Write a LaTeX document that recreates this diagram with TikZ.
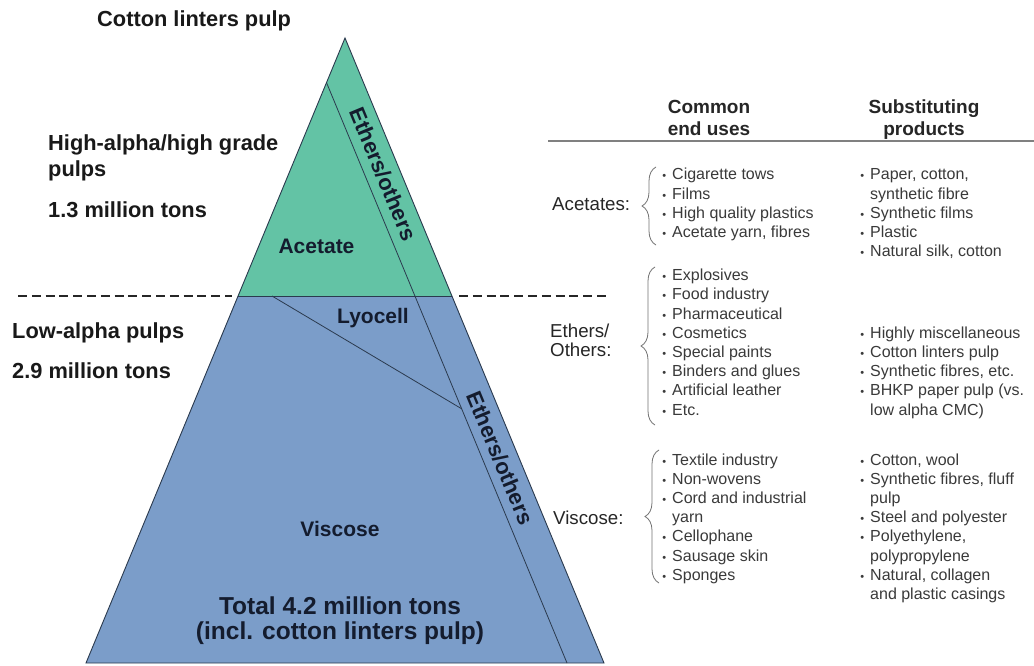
\documentclass[tikz,border=0pt]{standalone}
\usepackage{fontspec}
\setmainfont{Liberation Sans}
\usetikzlibrary{decorations.pathreplacing}
\definecolor{tealfill}{HTML}{63C3A5}
\definecolor{bluefill}{HTML}{7B9DC9}
\definecolor{edgecol}{HTML}{2B3A4E}
\definecolor{navytext}{HTML}{141C2E}
\definecolor{listgray}{HTML}{3A3A3A}
\newcommand{\bl}{\llap{{\fontsize{11}{11}\selectfont\textbullet}\hspace{6pt}}}
\tikzset{
  lefttxt/.style={anchor=base west, inner sep=0pt, font=\fontsize{21.8}{26}\selectfont\bfseries, text=black!90},
  tritxt/.style={anchor=base, inner sep=0pt, font=\fontsize{21}{25}\selectfont\bfseries, text=navytext},
  tottxt/.style={anchor=base, inner sep=0pt, font=\fontsize{24.5}{29}\selectfont\bfseries, text=navytext},
  rottxt/.style={anchor=center, inner sep=0pt, rotate=-67.5, font=\fontsize{22}{26}\selectfont\bfseries, text=navytext},
  hdr/.style={anchor=base, inner sep=0pt, font=\fontsize{19}{22}\selectfont\bfseries, text=black!85},
  cat/.style={anchor=base west, inner sep=0pt, font=\fontsize{18.7}{22}\selectfont, text=black!85},
  item/.style={anchor=base west, inner sep=0pt, font=\fontsize{16}{19}\selectfont, text=listgray},
  dashline/.style={line width=1.6pt, dash pattern=on 9pt off 4.8pt, draw=black!85},
  brc/.style={decorate, decoration={brace, amplitude=14pt}, draw=black!55, line width=0.8pt},
  divline/.style={draw=edgecol, line width=0.8pt}
}
\begin{document}
\begin{tikzpicture}[x=1pt,y=-1pt]
\fill[white] (0,0) rectangle (1034,666);
\useasboundingbox (0,0) rectangle (1034,666);
% pyramid geometry
\coordinate (A) at (345,38);
\coordinate (BL) at (86,663);
\coordinate (BR) at (604,663);
\coordinate (DL) at (237.9,296);
\coordinate (DR) at (452.1,296);
\coordinate (I1) at (326.5,82.6);
\coordinate (I2) at (567,663);
\coordinate (L1) at (272,296);
\coordinate (L2) at (462,409);
\fill[tealfill] (A) -- (DL) -- (DR) -- cycle;
\fill[bluefill] (DL) -- (BL) -- (BR) -- (DR) -- cycle;
\draw[divline] (DL) -- (DR);
\draw[divline] (I1) -- (I2);
\draw[divline] (L1) -- (L2);
\draw[draw=edgecol, line width=0.9pt, line join=miter] (A) -- (BL) -- (BR) -- cycle;
% dashed separators
\coordinate (dl1) at (18,296); \coordinate (dl2) at (232,296);
\coordinate (dr1) at (459,296); \coordinate (dr2) at (606,296);
\draw[dashline] (dl1) -- (dl2);
\draw[dashline] (dr1) -- (dr2);
% left texts
\node[lefttxt] (clp) at (97,27) {Cotton linters pulp};
\node[lefttxt] (ha1) at (48,151) {High-alpha/high grade};
\node[lefttxt] (ha2) at (48,176) {pulps};
\node[lefttxt] (hat) at (48,218) {1.3 million tons};
\node[lefttxt] (la1) at (12,338) {Low-alpha pulps};
\node[lefttxt] (lat) at (12,378) {2.9 million tons};
% pyramid labels
\node[tritxt] (acet) at (316.5,253) {Acetate};
\node[tritxt] (lyo) at (373,323) {Lyocell};
\node[tritxt] (visc) at (340,536) {Viscose};
\node[tottxt] (tot1) at (340,614) {Total 4.2 million tons};
\node[tottxt] (tot2) at (340,639) {(incl. cotton linters pulp)};
\node[rottxt] (eth1) at (383,174) {Ethers/others};
\node[rottxt] (eth2) at (500,458) {Ethers/others};
% table header
\node[hdr] (h1a) at (709,114) {Common};
\node[hdr] (h1b) at (709,136) {end uses};
\node[hdr] (h2a) at (924,114) {Substituting};
\node[hdr] (h2b) at (924,136) {products};
\coordinate (r1) at (548,141); \coordinate (r2) at (1034,141);
\draw[black!50, line width=1.5pt] (r1) -- (r2);
% categories
\node[cat] (cA) at (552,211) {Acetates:};
\node[cat] (cE1) at (550,337) {Ethers/};
\node[cat] (cE2) at (550,356.5) {Others:};
\node[cat] (cV) at (553,524) {Viscose:};
% braces
\coordinate (ba1) at (656,245); \coordinate (ba2) at (656,167);
\coordinate (be1) at (655,425); \coordinate (be2) at (655,267);
\coordinate (bv1) at (659,583); \coordinate (bv2) at (659,450);
\draw[brc] (ba1) -- (ba2);
\draw[brc] (be1) -- (be2);
\draw[brc] (bv1) -- (bv2);
% lists
\foreach \t [count=\i from 0] in {{\bl Cigarette tows},{\bl Films},{\bl High quality plastics},{\bl Acetate yarn, fibres}}
  \node[item] (ua\i) at (672,180+19.2*\i) {\t};
\foreach \t [count=\i from 0] in {{\bl Paper, cotton,},{synthetic fibre},{\bl Synthetic films},{\bl Plastic},{\bl Natural silk, cotton}}
  \node[item] (sa\i) at (870,180+19.2*\i) {\t};
\foreach \t [count=\i from 0] in {{\bl Explosives},{\bl Food industry},{\bl Pharmaceutical},{\bl Cosmetics},{\bl Special paints},{\bl Binders and glues},{\bl Artificial leather},{\bl Etc.}}
  \node[item] (ue\i) at (672,280.7+19.2*\i) {\t};
\foreach \t [count=\i from 0] in {{\bl Highly miscellaneous},{\bl Cotton linters pulp},{\bl Synthetic fibres, etc.},{\bl BHKP paper pulp (vs.},{low alpha CMC)}}
  \node[item] (se\i) at (870,338.3+19.2*\i) {\t};
\foreach \t [count=\i from 0] in {{\bl Textile industry},{\bl Non-wovens},{\bl Cord and industrial},{yarn},{\bl Cellophane},{\bl Sausage skin},{\bl Sponges}}
  \node[item] (uv\i) at (672,465+19.2*\i) {\t};
\foreach \t [count=\i from 0] in {{\bl Cotton, wool},{\bl Synthetic fibres, fluff},{pulp},{\bl Steel and polyester},{\bl Polyethylene,},{polypropylene},{\bl Natural, collagen},{and plastic casings}}
  \node[item] (sv\i) at (870,465+19.2*\i) {\t};
\end{tikzpicture}
\end{document}
